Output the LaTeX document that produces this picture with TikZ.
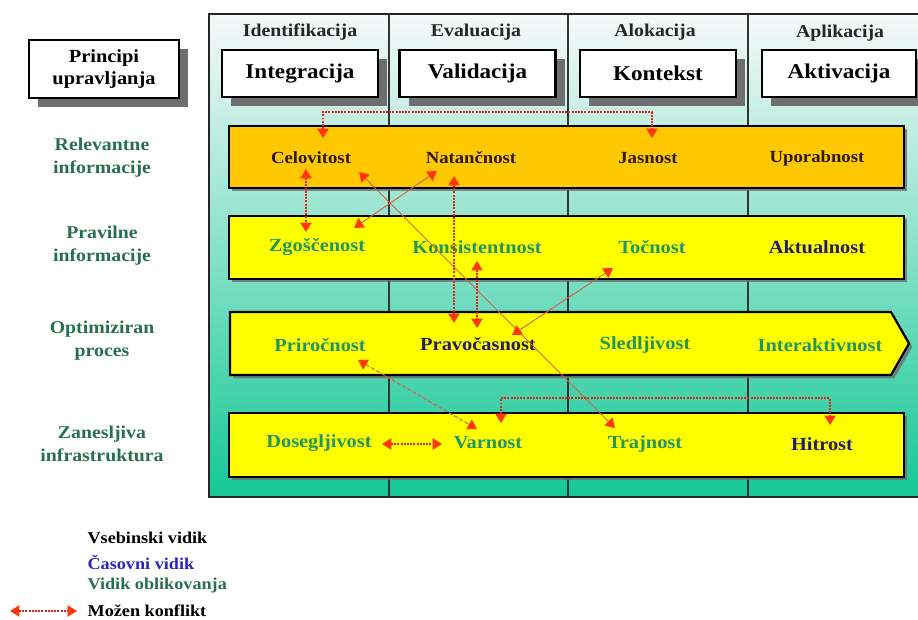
\documentclass[tikz,border=0pt]{standalone}
\usepackage{fontspec}
\setmainfont{Liberation Serif}[FakeStretch=1.1]
\usetikzlibrary{arrows.meta,calc,shadows}

\definecolor{bandorange}{RGB}{255,200,0}
\definecolor{bandyellow}{RGB}{255,255,0}
\definecolor{paneltop}{RGB}{246,249,249}
\definecolor{panelmid}{RGB}{165,225,205}
\definecolor{panelbot}{RGB}{20,200,150}
\definecolor{shadowgrey}{RGB}{110,110,110}
\definecolor{itemgreen}{RGB}{35,150,95}
\definecolor{labelgreen}{RGB}{40,110,80}
\definecolor{itemnavy}{RGB}{35,30,100}
\definecolor{itembrown}{RGB}{45,25,0}
\definecolor{legendblue}{RGB}{45,35,200}
\definecolor{conflictred}{RGB}{225,35,25}
\definecolor{tipred}{RGB}{255,55,10}
\definecolor{linkred}{RGB}{215,95,75}

\newcommand{\fsz}[2]{\bfseries\fontsize{#1}{#2}\selectfont}

\tikzset{
  x=0.75pt, y=-0.75pt,
  >={Triangle[length=7pt,width=8.5pt,color=tipred]},
  txt/.style={inner sep=1pt, align=center},
  colhead/.style={txt, font=\fsz{13.5pt}{16pt}, text=black!85},
  hbox/.style={draw=black, line width=1.6pt, fill=white, inner sep=0pt, align=center,
    minimum width=117pt, minimum height=35.25pt, font=\fsz{15.75pt}{18pt},
    drop shadow={shadow xshift=7pt, shadow yshift=-6.5pt, fill=shadowgrey, opacity=1}},
  rowlabel/.style={txt, font=\fsz{13.5pt}{17.25pt}, text=labelgreen},
  toprow/.style={txt, font=\fsz{12.75pt}{15pt}, text=itembrown},
  itemg/.style={txt, font=\fsz{13.9pt}{16pt}, text=itemgreen},
  itemn/.style={txt, font=\fsz{13.9pt}{16pt}, text=itemnavy},
  band/.style={draw=black, line width=1.6pt,
    drop shadow={shadow xshift=2.5pt, shadow yshift=-2.5pt, fill=shadowgrey, opacity=0.8}},
  divider/.style={draw=black!80, line width=1.5pt},
  conf/.style={<->, draw=conflictred, line width=0.9pt, dash pattern=on 1.4pt off 1pt},
  link/.style={<->, draw=linkred, line width=0.7pt},
  dlink/.style={<->, draw=linkred, line width=0.8pt, dash pattern=on 3pt off 1.5pt},
  legend/.style={anchor=west, inner sep=1pt, font=\fsz{12.4pt}{15pt}},
}

\begin{document}
\begin{tikzpicture}
\useasboundingbox (0,0) rectangle (918,619);
\clip (0,0) rectangle (918,619);

% shaded panel with the four columns
\path[draw=black!85, line width=1.5pt, top color=paneltop, middle color=panelmid,
      bottom color=panelbot] (209,14) rectangle (935,497);
\foreach \cx in {389,568,748}
  \draw[divider] (\cx,14) -- (\cx,497);

% column headings
\node[colhead] (hid) at (300,32) {Identifikacija};
\node[colhead] (hev) at (476,32) {Evaluacija};
\node[colhead] (hal) at (655,32) {Alokacija};
\node[colhead] (hap) at (840,33) {Aplikacija};

% principle boxes
\node[hbox, minimum width=112.5pt, minimum height=43.5pt, font=\fsz{13.9pt}{16.5pt}]
  (princ) at (104,69) {Principi\\upravljanja};
\node[hbox] (integ) at (300,73.5) {Integracija};
\node[hbox] (valid) at (477.5,73.5) {Validacija};
\node[hbox] (kont) at (658,73.5) {Kontekst};
\node[hbox, minimum width=115.5pt] (aktiv) at (839,73.5) {Aktivacija};

% horizontal bands
\path[band, fill=bandorange] (229,126) rectangle (904,188);
\path[band, fill=bandyellow] (229,216) rectangle (904,279);
\path[band, fill=bandyellow] (230,312) -- (891,312) -- (909,343.5) -- (891,375)
  -- (230,375) -- cycle;
\path[band, fill=bandyellow] (229,413) rectangle (904,477);

% row labels
\node[rowlabel] (lrel) at (102,158) {Relevantne\\informacije};
\node[rowlabel] (lpra) at (102,246) {Pravilne\\informacije};
\node[rowlabel] (lopt) at (102,341) {Optimiziran\\proces};
\node[rowlabel] (lzan) at (102,444) {Zanesljiva\\infrastruktura};

% row 1
\node[toprow] (celo) at (311,158) {Celovitost};
\node[toprow] (nat)  at (471,158) {Natančnost};
\node[toprow] (jas)  at (648,158) {Jasnost};
\node[toprow] (upo)  at (817,158) {Uporabnost};
% row 2
\node[itemg] (zgo)  at (317,247) {Zgoščenost};
\node[itemg] (kons) at (477,247) {Konsistentnost};
\node[itemg] (toc)  at (652,247) {Točnost};
\node[itemn] (akt)  at (817,247) {Aktualnost};
% row 3
\node[itemg] (pri)  at (320,345) {Priročnost};
\node[itemn] (prav) at (478,344) {Pravočasnost};
\node[itemg] (sled) at (645,345) {Sledljivost};
\node[itemg] (inter) at (820,345) {Interaktivnost};
% row 4
\node[itemg] (dos)  at (319,443) {Dosegljivost};
\node[itemg] (var)  at (488,443) {Varnost};
\node[itemg] (traj) at (645,444) {Trajnost};
\node[itemn] (hit)  at (822,444) {Hitrost};

% conflicts between qualities
\draw[conf] ($(celo)+(12,-20)$) -- ++(0,-26) -| ($(jas)+(4,-20)$);
\draw[conf] ($(celo)+(-5,11)$) -- ($(zgo)+(-11,-15)$);
\draw[link] ($(nat)+(-34,13)$) -- ($(zgo)+(37,-19)$);
\draw[link] ($(celo)+(48,14)$) -- ($(traj)+(-30,-16)$);
\draw[conf] ($(nat)+(-17,18)$) -- ($(prav)+(-24,-21)$);
\draw[conf] ($(kons)+(0,14)$) -- ($(prav)+(-1,-16)$);
\draw[link] ($(toc)+(-39,21)$) -- ($(prav)+(34,-9)$);
\draw[dlink] ($(pri)+(38,15)$) -- ($(var)+(-11,-14)$);
\draw[conf] ($(var)+(13,-20)$) -- ++(0,-25) -| ($(hit)+(8,-19)$);
\draw[conf] ($(dos)+(63,1)$) -- ($(var)+(-46,1)$);

% legend
\node[legend, text=black]      (leg1) at (86,538) {Vsebinski vidik};
\node[legend, text=legendblue] (leg2) at (86,562) {Časovni vidik};
\node[legend, text=labelgreen] (leg3) at (86,586) {Vidik oblikovanja};
\node[legend, text=black]      (leg4) at (86,611) {Možen konflikt};
\coordinate (lgstart) at (10,611);
\draw[conf] (lgstart) -- ($(leg4.west)+(-9,0)$);
\end{tikzpicture}
\end{document}
